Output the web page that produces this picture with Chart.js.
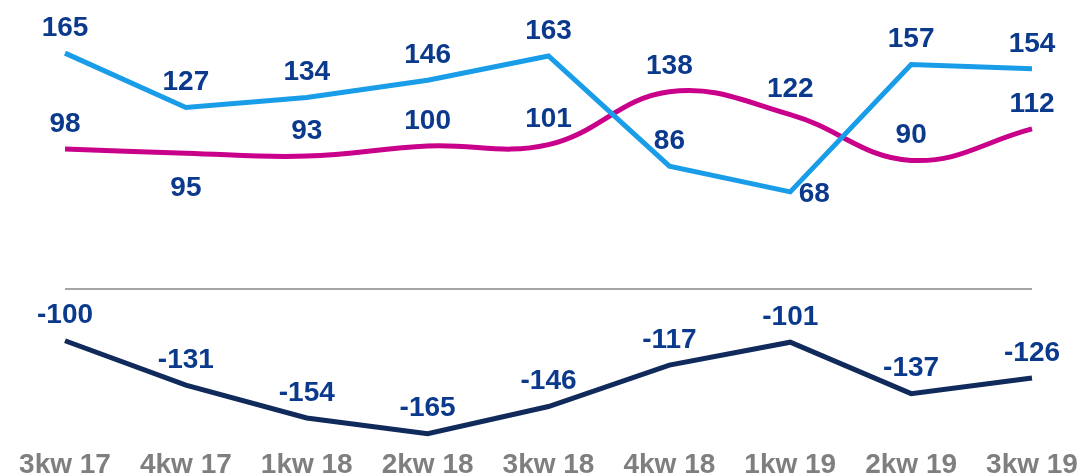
<!DOCTYPE html>
<html>
<head>
<meta charset="utf-8">
<script src="https://cdn.jsdelivr.net/npm/chart.js@4"></script>
<style>
  html, body { margin: 0; padding: 0; background: #fff; }
  #wrap { width: 1083px; height: 475px; position: relative; }
</style>
</head>
<body>
<div id="wrap"><canvas id="chart"></canvas></div>
<script>
const quarters = ["3kw 17", "4kw 17", "1kw 18", "2kw 18", "3kw 18", "4kw 18", "1kw 19", "2kw 19", "3kw 19"];
const blueValues = [165, 127, 134, 146, 163, 86, 68, 157, 154];
const pinkValues = [98, 95, 93, 100, 101, 138, 122, 90, 112];
const navyValues = [-100, -131, -154, -165, -146, -117, -101, -137, -126];

// where each label sits relative to its point
const pinkLabelPos = ["above", "below", "above", "above", "above", "above", "above", "above", "above"];
const blueLabelPos = ["above", "above", "above", "above", "above", "above", "right", "above", "above"];

const labelColor = "#0b3a8c";

// draws the value labels next to each point
const valueLabels = {
  id: "valueLabels",
  afterDatasetsDraw(chart) {
    const ctx = chart.ctx;
    ctx.save();
    ctx.font = "bold 28px 'Liberation Sans', Arial, sans-serif";
    ctx.fillStyle = labelColor;
    ctx.textAlign = "center";
    ctx.textBaseline = "middle";
    chart.data.datasets.forEach((ds, i) => {
      const meta = chart.getDatasetMeta(i);
      meta.data.forEach((pt, j) => {
        const pos = ds.labelPos ? ds.labelPos[j] : "above";
        let x = pt.x, y = pt.y - 25;
        if (pos === "below") y = pt.y + 35;
        if (pos === "right") { x = pt.x + 24; y = pt.y + 2; }
        ctx.fillText(String(ds.data[j]), x, y);
      });
    });
    ctx.restore();
  }
};

new Chart(document.getElementById("chart"), {
  type: "line",
  data: {
    labels: quarters,
    datasets: [
      {
        data: blueValues,
        borderColor: "#1a9de8",
        borderWidth: 5,
        pointRadius: 0,
        tension: 0,
        yAxisID: "y",
        labelPos: blueLabelPos
      },
      {
        data: pinkValues,
        borderColor: "#c8008a",
        borderWidth: 5,
        pointRadius: 0,
        tension: 0.4,
        yAxisID: "y",
        labelPos: pinkLabelPos
      },
      {
        data: navyValues,
        borderColor: "#102a5c",
        borderWidth: 5,
        pointRadius: 0,
        tension: 0,
        yAxisID: "y2"
      }
    ]
  },
  options: {
    responsive: true,
    maintainAspectRatio: false,
    animation: false,
    layout: { padding: { left: 65, right: 51, top: 12, bottom: -7 } },
    plugins: { legend: { display: false }, tooltip: { enabled: false } },
    scales: {
      x: {
        offset: false,
        grid: { display: false, drawTicks: false },
        border: { display: false },
        ticks: {
          color: "#7f7f7f",
          padding: 3,
          maxRotation: 0,
          font: { family: "'Liberation Sans', Arial, sans-serif", size: 28, weight: "bold", lineHeight: 1 }
        }
      },
      y: {
        min: -111.1,
        max: 193.75,
        afterBuildTicks: axis => { axis.ticks = [{ value: 0 }]; },
        grid: { color: "#a6a6a6", lineWidth: 2, drawTicks: false },
        border: { display: false },
        ticks: { display: false }
      },
      y2: {
        display: false,
        min: -175,
        max: 129.9
      }
    }
  },
  plugins: [valueLabels]
});
</script>
</body>
</html>
